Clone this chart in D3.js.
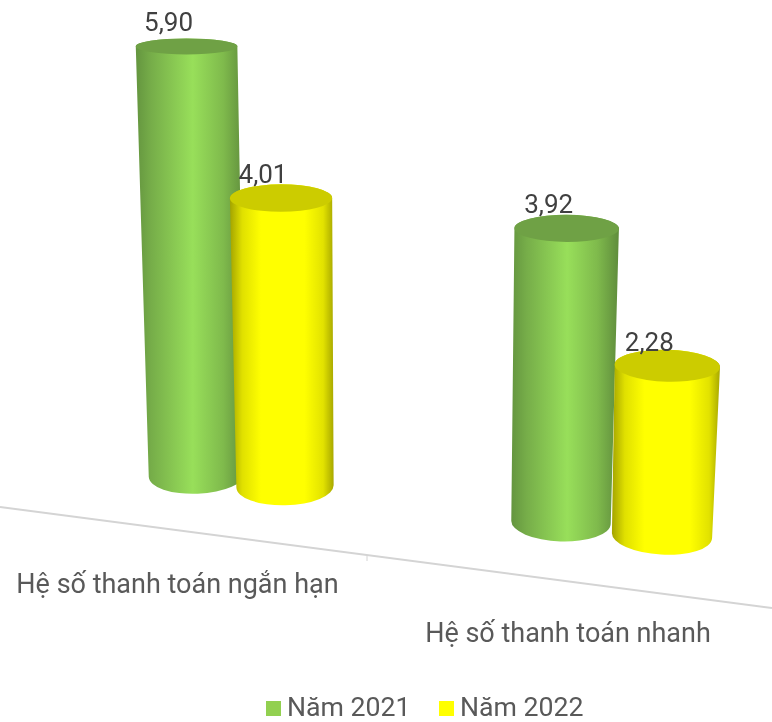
<!DOCTYPE html>
<html lang="vi"><head><meta charset="utf-8">
<style>html,body{margin:0;padding:0;background:#fff}svg{display:block;filter:blur(0.45px)}text{font-family:Roboto,sans-serif}</style>
<script src="https://cdn.jsdelivr.net/npm/d3@7/dist/d3.min.js"></script>
</head><body><svg id="c" width="772" height="722"></svg>
<script>
const categories = ["Hệ số thanh toán ngắn hạn", "Hệ số thanh toán nhanh"];
const seriesNames = ["Năm 2021", "Năm 2022"];
const values2021 = [5.90, 3.92];
const values2022 = [4.01, 2.28];
const seriesValues = [values2021, values2022];
const fmt = v => v.toFixed(2).replace(".", ",");

const svg = d3.select("#c");
const defs = svg.append("defs");
const themes = [
  {base:"#92d050", top:"#6fa145", stops:[[0,"#64953f"],[.14,"#76ad49"],[.52,"#98df5a"],[.8,"#7fba4c"],[1,"#5f8c3c"]]},
  {base:"#ffff00", top:"#cccc00", stops:[[0,"#a3a300"],[.12,"#e0e000"],[.3,"#ffff00"],[.72,"#ffff00"],[.9,"#e2e200"],[1,"#a8a800"]]}
];
themes.forEach((t,i)=>{
  const g = defs.append("linearGradient").attr("id","side"+i).attr("x1",0).attr("x2",1).attr("y1",0).attr("y2",0);
  t.stops.forEach(s=>g.append("stop").attr("offset",s[0]).attr("stop-color",s[1]));
});

// Ground position: category band + series offset, then sloped floor line.
const groundX = d3.scaleBand().domain(categories).range([55.75, 796.75]);
const seriesX = d3.scaleBand().domain(seriesNames).range([-1, 1]);
const spread = d3.scaleLinear().domain([241, 611.5]).range([88, 101]);
const depth = d3.scaleLinear().domain([197, 285, 561, 662]).range([1, .99, 1.033, 1.026]);
const floor = d3.scaleLinear().domain([0, 772]).range([507, 608]);
const heightScale = d3.scaleLinear().domain([0, 6]).range([0, 435.6]);
const topRy = d3.scaleLinear().domain([0, 169, 290, 429]).range([18, 16, 13.7, 8]);
const labelX = d3.scalePoint().domain(categories).range([177.5, 568]);
const labelY = d3.scalePoint().domain(categories).range([593, 642]);
const vanishX = 400, floorLift = 58;

function cyl(cat, sIdx, v){
  const gc = groundX(cat) + groundX.bandwidth()/2;
  const xb = gc + (seriesX(seriesNames[sIdx]) + seriesX.bandwidth()/2) * spread(gc);
  const h = heightScale(v) * depth(xb);
  const yb = floor(xb) - floorLift;
  const xt = xb + (xb - vanishX) * 1.2e-4 * h;
  const yt = yb - h;
  const rb = 47.5 + xb*0.004, rt = rb + 2.5;
  const ryb = 19, ryt = topRy(h);
  const rotB = (xb - vanishX) * 0.012;
  const rotT = rotB * Math.max(0, 1 - h/330);
  return {xb,yb,xt,yt,rb,rt,ryb,ryt,rotB,rotT};
}
function pt(cx,cy,r,rot,sign){ const a=rot*Math.PI/180; return [cx+sign*r*Math.cos(a), cy+sign*r*Math.sin(a)]; }

const bars = [];
categories.forEach((cat,ci)=>seriesValues.forEach((vals,si)=>bars.push({cat,si,v:vals[ci]})));

// axis
const axisG = svg.append("g");
axisG.append("line").attr("x1",0).attr("x2",772).attr("y1",floor(0)).attr("y2",floor(772))
  .attr("stroke","#d4d4d4").attr("stroke-width",2);
const tickX = 367;
axisG.append("line").attr("x1",tickX).attr("x2",tickX).attr("y1",floor(tickX)).attr("y2",floor(tickX)+6)
  .attr("stroke","#d4d4d4").attr("stroke-width",1);

// cylinders
const gBars = svg.append("g");
bars.forEach(b=>{
  const c = cyl(b.cat,b.si,b.v);
  const tl = pt(c.xt,c.yt,c.rt,c.rotT,-1), tr = pt(c.xt,c.yt,c.rt,c.rotT,1);
  const bl = pt(c.xb,c.yb,c.rb,c.rotB,-1), br = pt(c.xb,c.yb,c.rb,c.rotB,1);
  gBars.append("path")
    .attr("d",`M${tl}L${bl}A${c.rb},${c.ryb} ${c.rotB} 0 0 ${br}L${tr}A${c.rt},${c.ryt} ${c.rotT} 0 0 ${tl}Z`)
    .attr("fill",`url(#side${b.si})`);
  gBars.append("ellipse").attr("cx",c.xt).attr("cy",c.yt).attr("rx",c.rt).attr("ry",c.ryt)
    .attr("transform",`rotate(${c.rotT} ${c.xt} ${c.yt})`).attr("fill",themes[b.si].top);
});
// value labels
bars.forEach(b=>{
  const c = cyl(b.cat,b.si,b.v);
  svg.append("text").attr("x",c.xt-18).attr("y",c.yt-15).attr("text-anchor","middle")
    .attr("font-size",26).attr("fill","#404040").text(fmt(b.v));
});
// category labels
categories.forEach(cat=>{
  svg.append("text").attr("x",labelX(cat)).attr("y",labelY(cat)).attr("text-anchor","middle")
    .attr("font-size",27).attr("fill","#595959").text(cat);
});
// legend
const legendX = d3.scalePoint().domain(seriesNames).range([266,439]);
seriesNames.forEach((n,i)=>{
  const x = legendX(n);
  svg.append("rect").attr("x",x).attr("y",701).attr("width",15).attr("height",15).attr("fill",themes[i].base);
  svg.append("text").attr("x",x+21).attr("y",715.5).attr("font-size",26.7).attr("fill","#595959").text(n);
});
</script></body></html>
